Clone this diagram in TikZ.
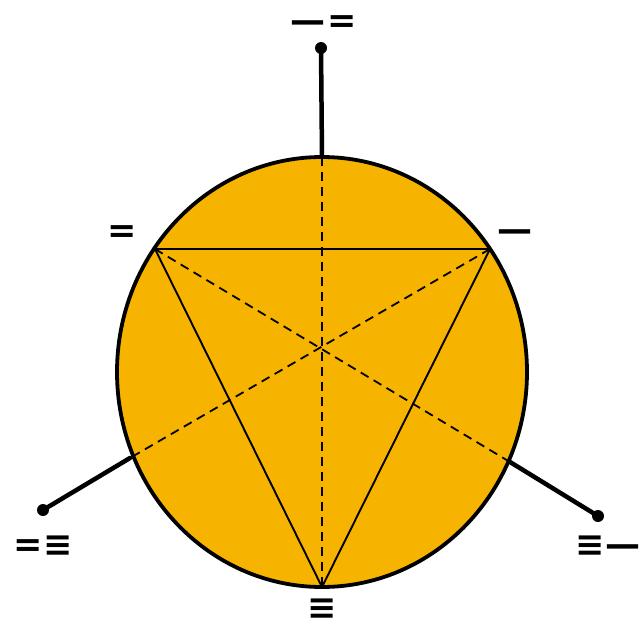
\documentclass[tikz,border=0pt]{standalone}
\usepackage{fontspec}
\newfontfamily\symfont{DejaVu Sans}
\definecolor{disc}{HTML}{F6B400}
\begin{document}
\begin{tikzpicture}[x=1pt,y=-1pt,
  stem/.style={line width=4.5pt,line cap=round},
  dotend/.style={circle,fill=black,inner sep=0pt,minimum size=12pt},
  thin/.style={line width=1.9pt},
  dsh/.style={line width=1.8pt,dash pattern=on 9pt off 6pt},
  lbl/.style={font=\symfont\bfseries\fontsize{35}{35}\selectfont,inner sep=0pt,
    text height=20pt,text depth=0pt}]
\useasboundingbox (0,0) rectangle (642,629);
\coordinate (c) at (322,372);
\fill[disc] (c) ellipse [x radius=205, y radius=215];
\draw[line width=3.8pt] (c) ellipse [x radius=205, y radius=215];
% triangle vertices
\coordinate (A) at (155,249);
\coordinate (B) at (490,249);
\coordinate (C) at (322,587);
\coordinate (T) at (322,157);
\coordinate (L) at (130,458);
\coordinate (R) at (510,462);
\draw[thin] (A) -- (B) -- (C) -- cycle;
\draw[dsh] (T) -- (C);
\draw[dsh] (A) -- (R);
\draw[dsh] (B) -- (L);
% stems
\node[dotend] (dt) at (321,48) {};
\node[dotend] (dl) at (43,510) {};
\node[dotend] (dr) at (598,516) {};
\draw[stem] (T) -- (dt.center);
\draw[stem] (L) -- (dl.center);
\draw[stem] (R) -- (dr.center);
% labels
\node[lbl] (lt) at (324,22) {—\kern2pt=};
\node[lbl] (ll) at (122,232) {=};
\node[lbl] (lr) at (515,231) {—};
\node[lbl] (lbl1) at (43,546) {=\kern1pt≡};
\node[lbl] (lbr) at (608,546) {≡\kern1pt—};
\node[lbl,anchor=base] (lb) at (322,619.5) {≡};
\end{tikzpicture}
\end{document}
